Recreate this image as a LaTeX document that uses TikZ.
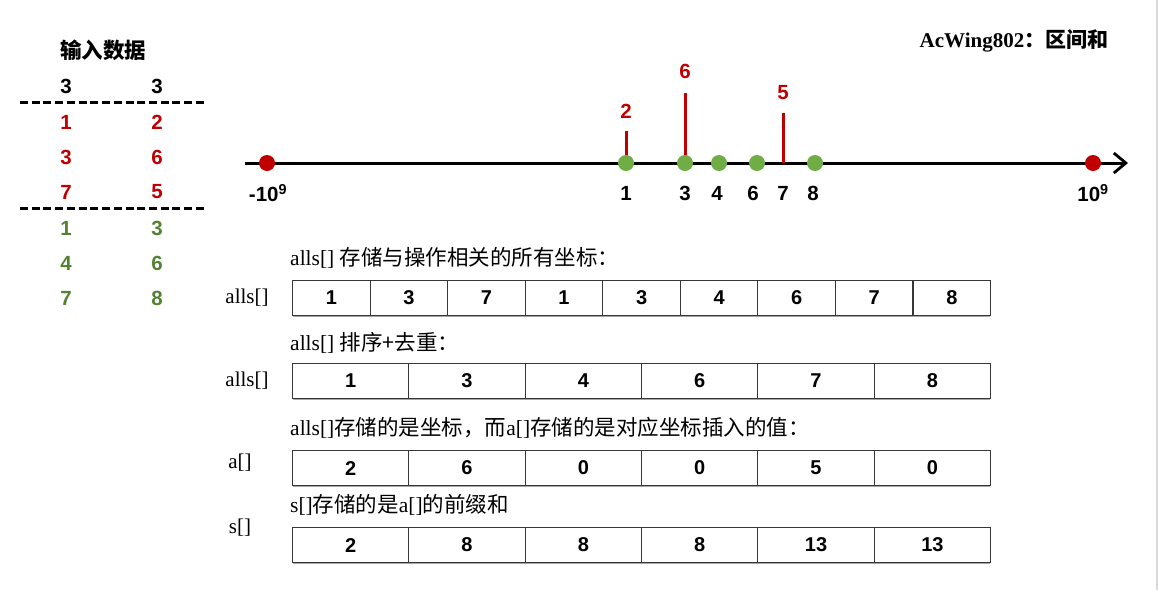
\documentclass[tikz,border=0pt]{standalone}
\usepackage{fontspec}
\setmainfont{Liberation Serif}
\setsansfont{Liberation Sans}
\newfontfamily\cjk{Noto Sans CJK SC}
\usetikzlibrary{arrows.meta}
\definecolor{myred}{RGB}{192,0,0}
\definecolor{dotgreen}{RGB}{112,173,71}
\definecolor{txtgreen}{RGB}{84,130,53}
\definecolor{cellline}{RGB}{55,55,55}
\begin{document}
\begin{tikzpicture}[x=1pt,y=-1pt,
  num/.style={font=\sffamily\bfseries\fontsize{20.5}{20.5}\selectfont, inner sep=0pt},
  cell/.style={draw=cellline, line width=1.1pt, minimum height=35pt, inner sep=0pt,
    font=\sffamily\bfseries\fontsize{20}{20}\selectfont, anchor=north west},
  captxt/.style={anchor=west, inner sep=0pt, font=\fontsize{21.5}{21.5}\selectfont},
  rowlab/.style={inner sep=0pt, font=\fontsize{21}{21}\selectfont},
  dashline/.style={line width=3pt, dash pattern=on 8pt off 3.73pt},
  axisline/.style={line width=3pt, -{Straight Barb[length=12pt,width=20pt,line width=2.8pt]}},
  reddot/.style={circle, fill=myred, minimum size=16pt, inner sep=0pt},
  greendot/.style={circle, fill=dotgreen, minimum size=16pt, inner sep=0pt},
  bar/.style={draw=myred, line width=3pt},
  shadowline/.style={draw=black!35, line width=1pt}
]
\useasboundingbox (0,0) rectangle (1158,590);
\fill[white] (0,0) rectangle (1158,590);
\draw[black!15, line width=1.5pt] (1157,0) -- (1157,590);

% title
\node[inner sep=0pt, font=\fontsize{21}{21}\selectfont\bfseries] (title) at (1014,41) {AcWing802{\cjk\bfseries ：区间和}};

% input data
\node[inner sep=0pt, font=\cjk\bfseries\fontsize{21.5}{21.5}\selectfont] (inhdr) at (103,50) {输入数据};
\node[num] (n0a) at (66,86) {3};
\node[num] (n0b) at (157,86) {3};
\coordinate (d1s) at (20,102); \coordinate (d1e) at (204,102);
\draw[dashline] (d1s) -- (d1e);
\node[num, myred] (n1a) at (66,122) {1};
\node[num, myred] (n1b) at (157,122) {2};
\node[num, myred] (n2a) at (66,157) {3};
\node[num, myred] (n2b) at (157,157) {6};
\node[num, myred] (n3a) at (66,192) {7};
\node[num, myred] (n3b) at (157,192) {5};
\coordinate (d2s) at (20,208); \coordinate (d2e) at (204,208);
\draw[dashline] (d2s) -- (d2e);
\node[num, txtgreen] (n4a) at (66,228) {1};
\node[num, txtgreen] (n4b) at (157,228) {3};
\node[num, txtgreen] (n5a) at (66,263) {4};
\node[num, txtgreen] (n5b) at (157,263) {6};
\node[num, txtgreen] (n6a) at (66,298) {7};
\node[num, txtgreen] (n6b) at (157,298) {8};

% number line
\coordinate (axs) at (245,163);
\coordinate (axe) at (1128,163);
\draw[axisline] (axs) -- (axe);
\coordinate (t7) at (783,163);
\coordinate (b1) at (626,131);
\coordinate (b3) at (685,93);
\coordinate (b7) at (783,113);
\node[reddot] (pmin) at (267,163) {};
\node[reddot] (pmax) at (1093,163) {};
\draw[bar] (b1) -- (626,158);
\draw[bar] (b3) -- (685,158);
\draw[bar] (b7) -- (t7);
\node[greendot] (g1) at (626,163) {};
\node[greendot] (g3) at (685,163) {};
\node[greendot] (g4) at (719,163) {};
\node[greendot] (g6) at (757,163) {};
\node[greendot] (g8) at (815,163) {};
\node[num, myred] (v2) at (626,111) {2};
\node[num, myred] (v6) at (685,71) {6};
\node[num, myred] (v5) at (783,93) {5};
\node[num] (lmin) at (268,193) {-10\textsuperscript{9}};
\node[num] (l1) at (626,193) {1};
\node[num] (l3) at (685,193) {3};
\node[num] (l4) at (717,193) {4};
\node[num] (l6) at (753,193) {6};
\node[num] (l7) at (783,193) {7};
\node[num] (l8) at (813,193) {8};
\node[num] (lmax) at (1093,193) {10\textsuperscript{9}};

% shadows under the arrays
\foreach \yy in {316.5,399.5,486.5,563.5}
  \draw[shadowline] (293,\yy) -- (990,\yy);

% captions and arrays
\node[captxt] (c1) at (290,258) {alls[] {\cjk 存储与操作相关的所有坐标：}};
\node[rowlab] (rl1) at (247,298) {alls[]};
\foreach \v [count=\i] in {1,3,7,1,3,4,6,7,8}
  \node[cell, minimum width=77.56pt] (ra\i) at ({292+(\i-1)*77.56},280) {\v};

\node[captxt] (c2) at (290,343) {alls[] {\cjk 排序+去重：}};
\node[rowlab] (rl2) at (247,381) {alls[]};
\foreach \v [count=\i] in {1,3,4,6,7,8}
  \node[cell, minimum width=116.33pt] (rb\i) at ({292+(\i-1)*116.33},363) {\v};

\node[captxt] (c3) at (290,428) {alls[]{\cjk 存储的是坐标，而}a[]{\cjk 存储的是对应坐标插入的值：}};
\node[rowlab] (rl3) at (240,463) {a[]};
\foreach \v [count=\i] in {2,6,0,0,5,0}
  \node[cell, minimum width=116.33pt] (rc\i) at ({292+(\i-1)*116.33},450) {\v};

\node[captxt] (c4) at (290,505) {s[]{\cjk 存储的是}a[]{\cjk 的前缀和}};
\node[rowlab] (rl4) at (240,528) {s[]};
\foreach \v [count=\i] in {2,8,8,8,13,13}
  \node[cell, minimum width=116.33pt] (rd\i) at ({292+(\i-1)*116.33},527) {\v};
\end{tikzpicture}
\end{document}
